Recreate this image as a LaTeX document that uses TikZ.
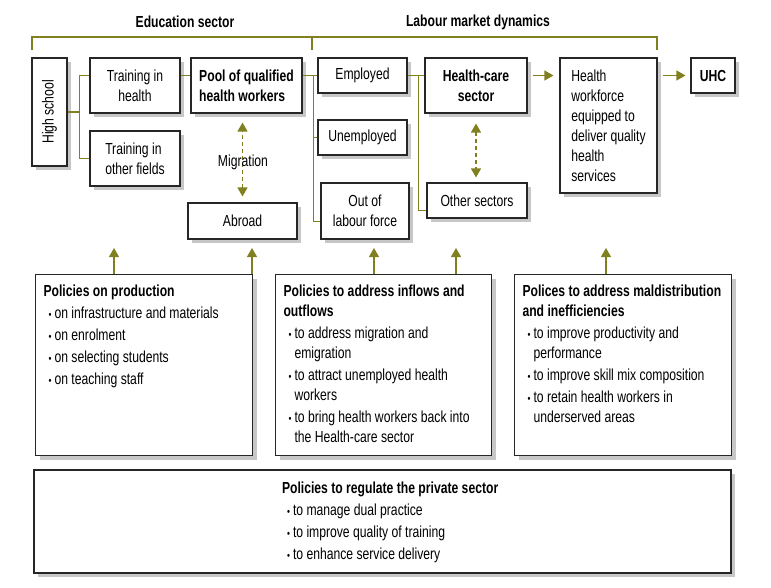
\documentclass[tikz,border=0pt]{standalone}
\usepackage{fontspec}
\setmainfont{Liberation Sans}[FakeStretch=0.76]
\usetikzlibrary{arrows.meta,calc,shadows}

\definecolor{olivegrn}{RGB}{128,128,32}
\newcommand{\polhead}[1]{{\bfseries #1}\par}
\newcommand{\politem}[1]{\par\hangindent=11pt\hangafter=1\hspace*{5pt}\makebox[6pt][l]{\fontsize{11}{11}\selectfont\textbullet}#1}
\newcommand{\polbox}[3]{\begin{minipage}[t][#1][t]{#2}\raggedright\setlength{\parindent}{0pt}\setlength{\parskip}{2pt}#3\end{minipage}}

\begin{document}
\begin{tikzpicture}[x=1pt,y=-1pt,
  font=\fontsize{16}{20}\selectfont,
  box/.style={draw=black!85,line width=1.1pt,fill=white,inner sep=0pt,
    drop shadow={shadow xshift=4pt,shadow yshift=-4pt,fill=black!22,opacity=1}},
  olivetie/.style={draw=olivegrn,line width=1.2pt},
  feed/.style={olivetie,-{Triangle[length=9pt,width=10pt]}},
  swapflow/.style={olivetie,dash pattern=on 4pt off 3pt,
    {Triangle[length=9pt,width=10pt]}-{Triangle[length=9pt,width=10pt]}}]
  \useasboundingbox (0,0) rectangle (771,587);
  % Sector headings and brackets
  \node[font=\fontsize{16}{20}\selectfont\bfseries] (edu) at (185,22) {Education sector};
  \node[font=\fontsize{16}{20}\selectfont\bfseries] (lab) at (478,22) {Labour market dynamics};
  \draw[olivetie] (32,50) -- (32,37) -- (657,37) -- (657,50);
  \draw[olivetie] (312,37) -- (312,50);
  % Education boxes
  \node[box,minimum width=35,minimum height=108] (hs) at (49.5,112) {\rotatebox{90}{High school}};
  \node[box,minimum width=90,minimum height=55,align=center] (trh) at (135,85.5) {Training in\\health};
  \node[box,minimum width=90,minimum height=55,align=left] (tro) at (135,158.5) {Training in\\other fields};
  \node[box,minimum width=111,minimum height=55,align=left,font=\fontsize{16}{20}\selectfont\bfseries] (pool) at (246.5,85.5) {Pool of qualified\\health workers};
  \node[box,minimum width=109,minimum height=36] (abr) at (242.5,221) {Abroad};
  % Labour market boxes
  \node[box,minimum width=89,minimum height=35] (emp) at (362.5,75.5) {Employed};
  \node[box,minimum width=89,minimum height=35] (une) at (362.5,137.5) {Unemployed};
  \node[box,minimum width=88,minimum height=56,align=center] (olf) at (365,211) {Out of\\labour force};
  \node[box,minimum width=102,minimum height=55,align=center,font=\fontsize{16}{20}\selectfont\bfseries] (hc) at (476,85.5) {Health-care\\sector};
  \node[box,minimum width=100,minimum height=35] (oth) at (477,200.5) {Other sectors};
  \node[box,minimum width=97,minimum height=135,align=left] (hwf) at (608.5,125.5) {Health\\workforce\\equipped to\\deliver quality\\health\\services};
  \node[box,minimum width=44,minimum height=35,font=\fontsize{16}{20}\selectfont\bfseries] (uhc) at (713,75.5) {UHC};
  % Tree connectors
  \draw[olivetie] (hs.east) -- ++(12,0) coordinate (hsj);
  \draw[olivetie] (trh.west |- emp) -| (hsj |- tro.west) -- (tro.west);
  \draw[olivetie] (trh.east |- emp) -- (pool.west |- emp);
  \coordinate (pj) at ($(pool.east |- emp)+(11,0)$);
  \draw[olivetie] (pool.east |- emp) -- (emp.west);
  \draw[olivetie] (pj) |- (une.west);
  \draw[olivetie] (pj) |- ($(olf.south west)+(0,-18)$);
  \coordinate (ej) at ($(emp.east)+(11,0)$);
  \draw[olivetie] (emp.east) -- (hc.west |- emp);
  \draw[olivetie] (ej) |- ($(oth.south west)+(0,-8)$);
  % Flow arrows
  \draw[feed,shorten <=5pt,shorten >=6pt] (hc.east |- emp) -- (hwf.west |- emp);
  \draw[feed,shorten <=5pt,shorten >=5pt] (hwf.east |- emp) -- (uhc.west);
  \draw[swapflow,shorten <=6pt,shorten >=9pt] (abr.north) -- (abr.north |- pool.south);
  \draw[swapflow,shorten <=10pt,shorten >=5pt] (hc.south) -- (hc.south |- oth.north);
  \node (mig) at (243,162) {Migration};
  % Policy boxes
  \node[box,anchor=north west,inner sep=8pt] (polprod) at (35,274) {\polbox{165pt}{201pt}{%
    \vspace*{2pt}
    \polhead{Policies on production}
    \politem{on infrastructure and materials}
    \politem{on enrolment}
    \politem{on selecting students}
    \politem{on teaching staff}}};
  \node[box,anchor=north west,inner sep=8pt] (polflow) at (275,274) {\polbox{165pt}{200pt}{%
    \vspace*{2pt}
    \polhead{Policies to address inflows and\\outflows}
    \politem{to address migration and\newline emigration}
    \politem{to attract unemployed health\newline workers}
    \politem{to bring health workers back into\newline the Health-care sector}}};
  \node[box,anchor=north west,inner sep=8pt] (poldist) at (514,274) {\polbox{165pt}{201pt}{%
    \vspace*{2pt}
    \polhead{Polices to address maldistribution\\and inefficiencies}
    \politem{to improve productivity and\newline performance}
    \politem{to improve skill mix composition}
    \politem{to retain health workers in\newline underserved areas}}};
  \node[box,minimum width=697,minimum height=103] (polpriv) at (382.5,521.5) {\hspace*{24pt}\polbox{80pt}{225pt}{%
    \polhead{Policies to regulate the private sector}
    \politem{to manage dual practice}
    \politem{to improve quality of training}
    \politem{to enhance service delivery}}};
  % Policy arrows
  \foreach \nd/\dx in {polprod/79,polprod/217,polflow/99,polflow/181,poldist/92}
    \draw[feed] ($(\nd.north west)+(\dx,0)$) -- ++(0,-26);
\end{tikzpicture}
\end{document}
